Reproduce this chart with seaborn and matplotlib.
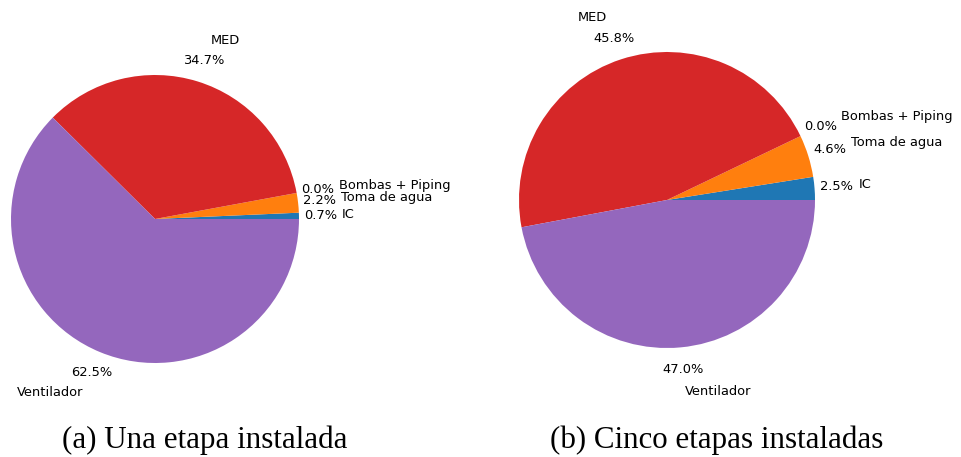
import matplotlib
matplotlib.use("Agg")
import matplotlib.pyplot as plt
import seaborn as sns

sns.set_style("white", rc={"text.color": "black"})

labels = ["IC", "Toma de agua", "Bombas + Piping", "MED", "Ventilador"]
una_etapa = [0.7, 2.2, 0.0, 34.7, 62.5]
cinco_etapas = [2.5, 4.6, 0.0, 45.8, 47.0]
captions = ["(a) Una etapa instalada", "(b) Cinco etapas instaladas"]

colors = sns.color_palette("tab10", 5)

W, H = 961, 457
fig = plt.figure(figsize=(W / 100, H / 100), dpi=100)


def pie_axes(cx, cy, r):
    # square axes whose limits (-1.25, 1.25) put a unit pie at radius r px
    side = 2.5 * r
    return fig.add_axes([(cx - side / 2) / W, (H - cy - side / 2) / H, side / W, side / H])


def draw(ax, vals):
    total = sum(vals)
    ax.pie(vals, labels=labels, colors=colors,
           autopct=lambda p: f"{p * total / 100:.1f}%",
           pctdistance=1.15, labeldistance=1.3,
           wedgeprops={"linewidth": 0, "edgecolor": "none"},
           textprops={"fontsize": 9.4, "family": "DejaVu Sans", "color": "black"})
    ax.set_xlim(-1.25, 1.25)
    ax.set_ylim(-1.25, 1.25)
    ax.set_aspect("equal")
    ax.axis("off")


ax_a = pie_axes(155, 219, 144)
draw(ax_a, una_etapa)
ax_b = pie_axes(667, 200, 148)
draw(ax_b, cinco_etapas)

fig.text(205 / W, 1 - 440 / H, captions[0], ha="center", va="center",
         fontsize=22.3, family="Liberation Serif", color="black")
fig.text(717 / W, 1 - 440 / H, captions[1], ha="center", va="center",
         fontsize=22.3, family="Liberation Serif", color="black")

fig.savefig("out.png", dpi=100, facecolor="white")
